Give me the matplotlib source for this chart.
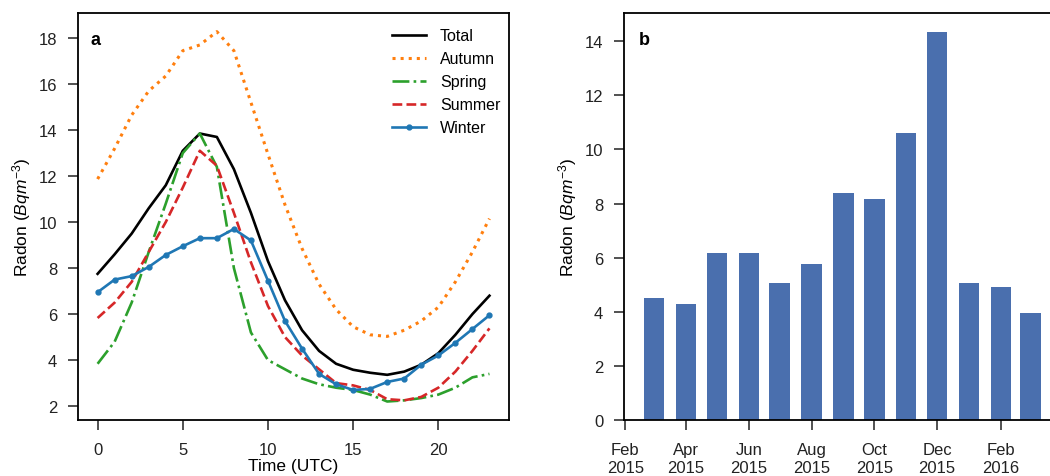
import datetime as dt
import matplotlib
matplotlib.use('Agg')
import matplotlib.pyplot as plt
import matplotlib.dates as mdates

plt.rcParams['font.family'] = ['Liberation Sans', 'DejaVu Sans']
plt.rcParams['mathtext.fontset'] = 'custom'
plt.rcParams['mathtext.rm'] = 'Liberation Sans'
plt.rcParams['mathtext.it'] = 'Liberation Sans:italic'
plt.rcParams['font.size'] = 12

# hourly mean radon (panel a)
hours = list(range(24))
total = [7.75, 8.6, 9.5, 10.6, 11.6, 13.1, 13.85, 13.7, 12.3, 10.4, 8.3, 6.6,
         5.3, 4.4, 3.84, 3.58, 3.45, 3.36, 3.5, 3.8, 4.3, 5.1, 6.0, 6.8]
autumn = [11.87, 13.2, 14.65, 15.7, 16.35, 17.45, 17.7, 18.28, 17.45, 15.2, 12.95, 10.75,
          8.85, 7.3, 6.2, 5.45, 5.1, 5.03, 5.3, 5.7, 6.3, 7.4, 8.7, 10.15]
spring = [3.84, 4.8, 6.5, 8.7, 10.8, 13.0, 13.85, 12.4, 8.0, 5.2, 4.0, 3.6,
          3.2, 2.95, 2.8, 2.7, 2.5, 2.2, 2.25, 2.35, 2.5, 2.8, 3.25, 3.4]
summer = [5.83, 6.5, 7.4, 8.7, 10.0, 11.5, 13.1, 12.45, 10.4, 8.25, 6.35, 5.0,
          4.2, 3.6, 3.0, 2.9, 2.7, 2.3, 2.25, 2.4, 2.8, 3.5, 4.4, 5.38]
winter = [6.95, 7.5, 7.65, 8.05, 8.57, 8.95, 9.3, 9.3, 9.7, 9.2, 7.45, 5.7,
          4.5, 3.4, 2.95, 2.7, 2.75, 3.05, 3.2, 3.8, 4.2, 4.75, 5.35, 5.95]

# monthly mean radon (panel b)
months = [dt.datetime(2015, m, 1) for m in range(3, 13)] + \
         [dt.datetime(2016, m, 1) for m in range(1, 4)]
monthly = [4.5, 4.29, 6.16, 6.18, 5.08, 5.75, 8.38, 8.17, 10.6, 14.32, 5.08, 4.91, 3.97]

fig = plt.figure(figsize=(10.5, 4.77), dpi=100)
ax1 = fig.add_axes([0.0743, 0.1174, 0.4105, 0.853])
ax2 = fig.add_axes([0.5943, 0.1174, 0.416, 0.853])

ax1.plot(hours, total, color='black', lw=1.9, label='Total')
ax1.plot(hours, autumn, color='#ff7f0e', lw=2.2, ls=':', label='Autumn')
ax1.plot(hours, spring, color='#2ca02c', lw=1.9, ls='-.', label='Spring')
ax1.plot(hours, summer, color='#d62728', lw=1.9, ls='--', label='Summer')
ax1.plot(hours, winter, color='#1f77b4', lw=1.9, marker='o', ms=3.5, label='Winter')
ax1.set_xticks([0, 5, 10, 15, 20])
ax1.set_yticks(range(2, 19, 2))
ax1.set_xlabel('Time (UTC)', fontsize=12.5, labelpad=0.5)
ax1.set_ylabel('Radon ($Bqm^{-3}$)', fontsize=12.5)
ax1.text(0.028, 0.935, 'a', transform=ax1.transAxes, fontsize=13, fontweight='bold', va='center')
ax1.legend(loc='upper right', frameon=False, handlelength=2.1, handletextpad=0.9,
           labelspacing=0.5, fontsize=11.5, borderaxespad=0.3,
           bbox_to_anchor=(1.006, 0.99))

ax2.bar(months, monthly, width=20, color='#4a6fae')
ax2.xaxis.set_major_locator(mdates.MonthLocator(bymonth=[2, 4, 6, 8, 10, 12]))
ax2.xaxis.set_major_formatter(mdates.DateFormatter('%b\n%Y'))
ax2.set_yticks(range(0, 15, 2))
ax2.set_ylabel('Radon ($Bqm^{-3}$)', fontsize=12.5)
ax2.text(0.034, 0.935, 'b', transform=ax2.transAxes, fontsize=13, fontweight='bold', va='center')
ax2.spines['right'].set_visible(False)

for ax in (ax1, ax2):
    ax.tick_params(direction='out', length=7, width=1.1, labelsize=12, colors='#222222')
    ax.tick_params(axis='y', pad=8)
    ax.tick_params(axis='x', pad=9)
    for s in ax.spines.values():
        s.set_linewidth(1.3)

fig.savefig('out.png', dpi=100)
